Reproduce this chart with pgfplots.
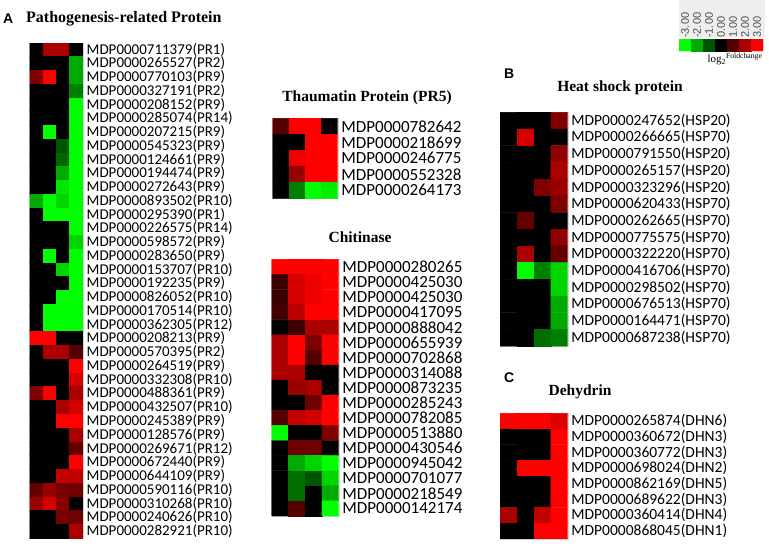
\documentclass[border=0pt]{standalone}
\usepackage{pgfplots}
\pgfplotsset{compat=1.18}
\usepackage{fontspec}
\setmainfont{Liberation Serif}
\newfontfamily\lab{Carlito}
\newfontfamily\arl{Liberation Sans}
\pgfplotsset{
 colormap={rg}{rgb255(0cm)=(0,255,0); rgb255(1cm)=(0,0,0); rgb255(2cm)=(255,0,0)},
 hm/.style={scale only axis, anchor=north west, enlargelimits=false,
   xmin=-0.5, xmax=3.5, y dir=reverse, xtick=\empty, major tick length=0pt,
   yticklabel pos=right, point meta min=-3, point meta max=3,
   axis line style={draw=gray!35, line width=0.3pt},
   yticklabel style={anchor=west, inner xsep=0pt, xshift=3.5bp},
   colormap name=rg},
}
\begin{document}
\begin{tikzpicture}
\useasboundingbox (0,0) rectangle (769bp,-546bp);
% ---------- Titles
\node[anchor=west, inner sep=0] at (3bp,-19bp) {\arl\bfseries\fontsize{14bp}{14bp}\selectfont A};
\node[anchor=west, inner sep=0] at (26bp,-19bp) {\bfseries\fontsize{16bp}{16bp}\selectfont Pathogenesis-related Protein};
\node[inner sep=0] at (367bp,-98bp) {\bfseries\fontsize{15.5bp}{15.5bp}\selectfont Thaumatin Protein (PR5)};
\node[inner sep=0] at (360bp,-237bp) {\bfseries\fontsize{15.5bp}{15.5bp}\selectfont Chitinase};
\node[anchor=west, inner sep=0] at (504bp,-74bp) {\arl\bfseries\fontsize{14bp}{14bp}\selectfont B};
\node[inner sep=0] at (620bp,-88bp) {\bfseries\fontsize{15.5bp}{15.5bp}\selectfont Heat shock protein};
\node[anchor=west, inner sep=0] at (504bp,-378bp) {\arl\bfseries\fontsize{14bp}{14bp}\selectfont C};
\node[inner sep=0] at (580bp,-392bp) {\bfseries\fontsize{15.5bp}{15.5bp}\selectfont Dehydrin};
% ---------- legend
\fill[gray!13] (679bp,0bp) rectangle (765bp,-37bp);
\node[inner sep=0] at (735bp,-59bp) {\fontsize{11bp}{11bp}\selectfont log\textsubscript{2}\textsuperscript{Foldchange}};
\begin{axis}[scale only axis, anchor=north west, at={(679bp,-39bp)}, width=84bp, height=12bp,
  enlargelimits=false, xmin=-0.5, xmax=6.5, ymin=-0.5, ymax=1.5, ytick=\empty,
  xtick={0,...,6}, xticklabels={-3.00,-2.00,-1.00,0.00,1.00,2.00,3.00}, xticklabel pos=top,
  major tick length=0pt,
  xticklabel style={rotate=90, anchor=west, font=\arl\fontsize{11bp}{11bp}\selectfont, text=gray!60!black, inner xsep=1bp},
  axis line style={draw=none}, colormap name=rg, point meta min=-3, point meta max=3]
\addplot[matrix plot*, mesh/cols=7, point meta=explicit] coordinates {
(0,0)[-3] (1,0)[-2] (2,0)[-1] (3,0)[0] (4,0)[1] (5,0)[2] (6,0)[3]
(0,1)[-3] (1,1)[-2] (2,1)[-1] (3,1)[0] (4,1)[1] (5,1)[2] (6,1)[3]
};
\end{axis}
% ---------- A: Pathogenesis-related protein
\begin{axis}[hm, at={(29.5bp,-42.7bp)}, width=53.5bp, height=495.3bp, ymin=-0.5, ymax=35.5,
  ytick={0,...,35},
  yticklabels={MDP0000711379(PR1),MDP0000265527(PR2),MDP0000770103(PR9),MDP0000327191(PR2),MDP0000208152(PR9),MDP0000285074(PR14),MDP0000207215(PR9),MDP0000545323(PR9),MDP0000124661(PR9),MDP0000194474(PR9),MDP0000272643(PR9),MDP0000893502(PR10),MDP0000295390(PR1),MDP0000226575(PR14),MDP0000598572(PR9),MDP0000283650(PR9),MDP0000153707(PR10),MDP0000192235(PR9),MDP0000826052(PR10),MDP0000170514(PR10),MDP0000362305(PR12),MDP0000208213(PR9),MDP0000570395(PR2),MDP0000264519(PR9),MDP0000332308(PR10),MDP0000488361(PR9),MDP0000432507(PR10),MDP0000245389(PR9),MDP0000128576(PR9),MDP0000269671(PR12),MDP0000672440(PR9),MDP0000644109(PR9),MDP0000590116(PR10),MDP0000310268(PR10),MDP0000240626(PR10),MDP0000282921(PR10)},
  yticklabel style={font=\lab\fontsize{15bp}{15bp}\selectfont}]
\addplot[matrix plot*, mesh/cols=4, point meta=explicit] coordinates {
(0,0)[0] (1,0)[2] (2,0)[2] (3,0)[0]
(0,1)[0] (1,1)[0] (2,1)[0] (3,1)[-2]
(0,2)[1.5] (1,2)[3] (2,2)[0] (3,2)[-2]
(0,3)[0] (1,3)[0] (2,3)[0] (3,3)[-1.5]
(0,4)[0] (1,4)[0] (2,4)[0] (3,4)[-3]
(0,5)[0] (1,5)[0] (2,5)[0] (3,5)[-3]
(0,6)[0] (1,6)[-3] (2,6)[0] (3,6)[-3]
(0,7)[0] (1,7)[0] (2,7)[-1] (3,7)[-3]
(0,8)[0] (1,8)[0] (2,8)[-1.2] (3,8)[-3]
(0,9)[0] (1,9)[0] (2,9)[-2] (3,9)[-3]
(0,10)[0] (1,10)[0] (2,10)[-2.7] (3,10)[-3]
(0,11)[-2] (1,11)[-3] (2,11)[-2.5] (3,11)[-3]
(0,12)[0] (1,12)[-3] (2,12)[-3] (3,12)[-3]
(0,13)[0] (1,13)[0] (2,13)[0] (3,13)[-3]
(0,14)[0] (1,14)[0] (2,14)[0] (3,14)[-2.5]
(0,15)[0] (1,15)[-3] (2,15)[0] (3,15)[-3]
(0,16)[0] (1,16)[0] (2,16)[-2.5] (3,16)[-3]
(0,17)[0] (1,17)[0] (2,17)[0] (3,17)[-3]
(0,18)[0] (1,18)[0] (2,18)[-3] (3,18)[-3]
(0,19)[0] (1,19)[-3] (2,19)[-3] (3,19)[-3]
(0,20)[0] (1,20)[-3] (2,20)[-3] (3,20)[-3]
(0,21)[3] (1,21)[3] (2,21)[0] (3,21)[0]
(0,22)[0] (1,22)[2] (2,22)[2] (3,22)[1]
(0,23)[0] (1,23)[0] (2,23)[0] (3,23)[3]
(0,24)[0] (1,24)[0] (2,24)[0] (3,24)[2.5]
(0,25)[1.5] (1,25)[3] (2,25)[0] (3,25)[2]
(0,26)[0] (1,26)[0] (2,26)[2] (3,26)[2.5]
(0,27)[0] (1,27)[0] (2,27)[3] (3,27)[3]
(0,28)[0] (1,28)[0] (2,28)[0] (3,28)[2]
(0,29)[0] (1,29)[0] (2,29)[0] (3,29)[1.2]
(0,30)[0] (1,30)[0] (2,30)[0] (3,30)[3]
(0,31)[0] (1,31)[0] (2,31)[2.3] (3,31)[2.3]
(0,32)[1.2] (1,32)[1.8] (2,32)[1.4] (3,32)[1.3]
(0,33)[1.8] (1,33)[2.5] (2,33)[1.6] (3,33)[0]
(0,34)[0] (1,34)[0] (2,34)[1.4] (3,34)[1.3]
(0,35)[0] (1,35)[0] (2,35)[0] (3,35)[2]
};
\end{axis}
% ---------- Thaumatin
\begin{axis}[hm, at={(272.7bp,-118.3bp)}, width=65bp, height=80bp, ymin=-0.5, ymax=4.5,
  ytick={0,...,4},
  yticklabels={MDP0000782642,MDP0000218699,MDP0000246775,MDP0000552328,MDP0000264173},
  yticklabel style={font=\lab\fontsize{17bp}{17bp}\selectfont}]
\addplot[matrix plot*, mesh/cols=4, point meta=explicit] coordinates {
(0,0)[1] (1,0)[3] (2,0)[3] (3,0)[0]
(0,1)[0] (1,1)[0] (2,1)[3] (3,1)[3]
(0,2)[0] (1,2)[2.8] (2,2)[3] (3,2)[3]
(0,3)[0] (1,3)[1.8] (2,3)[3] (3,3)[3]
(0,4)[0] (1,4)[-1.5] (2,4)[-3] (3,4)[-2.8]
};
\end{axis}
% ---------- Chitinase
\begin{axis}[hm, at={(271.7bp,-259.3bp)}, width=67bp, height=256.7bp, ymin=-0.5, ymax=16.5,
  ytick={0,...,16},
  yticklabels={MDP0000280265,MDP0000425030,MDP0000425030,MDP0000417095,MDP0000888042,MDP0000655939,MDP0000702868,MDP0000314088,MDP0000873235,MDP0000285243,MDP0000782085,MDP0000513880,MDP0000430546,MDP0000945042,MDP0000701077,MDP0000218549,MDP0000142174},
  yticklabel style={font=\lab\fontsize{17bp}{17bp}\selectfont}]
\addplot[matrix plot*, mesh/cols=4, point meta=explicit] coordinates {
(0,0)[3] (1,0)[3] (2,0)[3] (3,0)[3]
(0,1)[0.7] (1,1)[2.5] (2,1)[2.8] (3,1)[3]
(0,2)[0.7] (1,2)[2.5] (2,2)[2.8] (3,2)[3]
(0,3)[0.8] (1,3)[2.2] (2,3)[3] (3,3)[3]
(0,4)[0] (1,4)[0.7] (2,4)[2] (3,4)[2]
(0,5)[2] (1,5)[3] (2,5)[1.5] (3,5)[3]
(0,6)[2] (1,6)[3] (2,6)[1] (3,6)[3]
(0,7)[2] (1,7)[2] (2,7)[0] (3,7)[0]
(0,8)[0] (1,8)[1.8] (2,8)[2] (3,8)[0]
(0,9)[0] (1,9)[0] (2,9)[1.3] (3,9)[3]
(0,10)[1] (1,10)[2.3] (2,10)[2.5] (3,10)[3]
(0,11)[-3] (1,11)[0] (2,11)[0] (3,11)[1.5]
(0,12)[0] (1,12)[1.3] (2,12)[1.3] (3,12)[0]
(0,13)[0] (1,13)[-2] (2,13)[-2.5] (3,13)[-3]
(0,14)[0] (1,14)[-1.3] (2,14)[-1] (3,14)[-2.5]
(0,15)[0] (1,15)[-1.3] (2,15)[0] (3,15)[-2]
(0,16)[0] (1,16)[1] (2,16)[0] (3,16)[-3]
};
\end{axis}
% ---------- Heat shock protein
\begin{axis}[hm, at={(500bp,-112.3bp)}, width=67.7bp, height=233.8bp, ymin=-0.5, ymax=13.5,
  ytick={0,...,13},
  yticklabels={MDP0000247652(HSP20),MDP0000266665(HSP70),MDP0000791550(HSP20),MDP0000265157(HSP20),MDP0000323296(HSP20),MDP0000620433(HSP70),MDP0000262665(HSP70),MDP0000775575(HSP70),MDP0000322220(HSP70),MDP0000416706(HSP70),MDP0000298502(HSP70),MDP0000676513(HSP70),MDP0000164471(HSP70),MDP0000687238(HSP70)},
  yticklabel style={font=\lab\fontsize{15.5bp}{15.5bp}\selectfont}]
\addplot[matrix plot*, mesh/cols=4, point meta=explicit] coordinates {
(0,0)[0] (1,0)[0] (2,0)[0] (3,0)[1.5]
(0,1)[0] (1,1)[2.5] (2,1)[0] (3,1)[0]
(0,2)[0] (1,2)[0] (2,2)[0] (3,2)[1.7]
(0,3)[0] (1,3)[0] (2,3)[0] (3,3)[2]
(0,4)[0] (1,4)[0] (2,4)[1.5] (3,4)[1.8]
(0,5)[0] (1,5)[0] (2,5)[0] (3,5)[1.5]
(0,6)[0] (1,6)[1.2] (2,6)[0] (3,6)[0]
(0,7)[0] (1,7)[0] (2,7)[0] (3,7)[1.7]
(0,8)[0] (1,8)[2] (2,8)[0] (3,8)[1.2]
(0,9)[0] (1,9)[-3] (2,9)[-1.5] (3,9)[-2.5]
(0,10)[0] (1,10)[0] (2,10)[0] (3,10)[-2.5]
(0,11)[0] (1,11)[0] (2,11)[0] (3,11)[-2]
(0,12)[0] (1,12)[0] (2,12)[0] (3,12)[-2]
(0,13)[0] (1,13)[0] (2,13)[-1.3] (3,13)[-1.5]
};
\end{axis}
% ---------- Dehydrin
\begin{axis}[hm, at={(500bp,-413.3bp)}, width=67.7bp, height=125.6bp, ymin=-0.5, ymax=7.5,
  ytick={0,...,7},
  yticklabels={MDP0000265874(DHN6),MDP0000360672(DHN3),MDP0000360772(DHN3),MDP0000698024(DHN2),MDP0000862169(DHN5),MDP0000689622(DHN3),MDP0000360414(DHN4),MDP0000868045(DHN1)},
  yticklabel style={font=\lab\fontsize{15.5bp}{15.5bp}\selectfont}]
\addplot[matrix plot*, mesh/cols=4, point meta=explicit] coordinates {
(0,0)[3] (1,0)[3] (2,0)[3] (3,0)[2.6]
(0,1)[0] (1,1)[0] (2,1)[0] (3,1)[3]
(0,2)[0] (1,2)[0] (2,2)[0] (3,2)[3]
(0,3)[0] (1,3)[3] (2,3)[3] (3,3)[3]
(0,4)[0] (1,4)[0] (2,4)[0] (3,4)[3]
(0,5)[0] (1,5)[0] (2,5)[0] (3,5)[3]
(0,6)[2] (1,6)[0] (2,6)[2.3] (3,6)[3]
(0,7)[0] (1,7)[0] (2,7)[3] (3,7)[3]
};
\end{axis}
\end{tikzpicture}
\end{document}
